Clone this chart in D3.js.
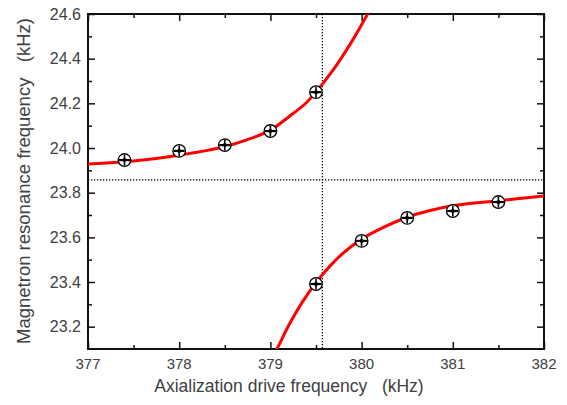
<!DOCTYPE html>
<html>
<head>
<meta charset="utf-8">
<script src="https://cdn.jsdelivr.net/npm/d3@7"></script>
<style>
  body { margin: 0; background: #fff; }
  text { font-family: "Liberation Sans", Arial, sans-serif; fill: #404040; }
</style>
</head>
<body>
<div id="chart"></div>
<script>
// measured points (kHz)
var drive = [377.4, 378.0, 378.5, 379.0, 379.5, 379.5, 380.0, 380.5, 381.0, 381.5];
var magnetron = [23.946, 23.987, 24.013, 24.076, 24.250, 23.391, 23.584, 23.687, 23.718, 23.758];

// fit curve, upper branch
var upperX = [377.0, 377.5, 378.0, 378.5, 378.8, 379.0, 379.2, 379.4, 379.5, 379.6, 379.7, 379.8, 379.9, 380.0, 380.1];
var upperY = [23.928, 23.942, 23.968, 24.006, 24.045, 24.080, 24.139, 24.205, 24.252, 24.302, 24.356, 24.417, 24.482, 24.552, 24.625];

// fit curve, lower branch
var lowerX = [379.0, 379.07, 379.2, 379.35, 379.5, 379.65, 379.8, 380.0, 380.25, 380.5, 380.75, 381.0, 381.5, 382.0];
var lowerY = [23.055, 23.100, 23.205, 23.310, 23.397, 23.470, 23.530, 23.592, 23.647, 23.690, 23.720, 23.741, 23.764, 23.785];

// dotted guide lines
var crossX = 379.57;
var crossY = 23.857;

var xTicks = [377, 378, 379, 380, 381, 382];
var yTicks = [23.2, 23.4, 23.6, 23.8, 24.0, 24.2, 24.4, 24.6];

var width = 567, height = 405;
var margin = { left: 88, top: 14, right: 23, bottom: 56 };
var innerW = width - margin.left - margin.right;
var innerH = height - margin.top - margin.bottom;

var svg = d3.select("#chart").append("svg")
  .attr("width", width)
  .attr("height", height);

var x = d3.scaleLinear().domain([377, 382]).range([0, innerW]);
var y = d3.scaleLinear().domain([23.1, 24.6]).range([innerH, 0]);

var g = svg.append("g")
  .attr("transform", "translate(" + margin.left + "," + margin.top + ")");

g.append("clipPath").attr("id", "clip")
  .append("rect").attr("width", innerW).attr("height", innerH);

//minor ticks every half kHz / 0.1 kHz
var xMinor = d3.range(377.5, 382, 1);
var yMinor = d3.range(23.3, 24.6, 0.2);

function tickAxes(axis, scale, major, minor, transform) {
  var a = g.append("g").attr("transform", transform)
    .call(axis(scale).tickValues(major).tickSize(-7).tickFormat(""));
  var b = g.append("g").attr("transform", transform)
    .call(axis(scale).tickValues(minor).tickSize(-4).tickFormat(""));
  [a, b].forEach(function(s) {
    s.select(".domain").remove();
    s.selectAll("line").attr("stroke", "#111").attr("stroke-width", 1.5);
  });
}

tickAxes(d3.axisBottom, x, xTicks, xMinor, "translate(0," + innerH + ")");
tickAxes(d3.axisTop, x, xTicks, xMinor, "translate(0,0)");
tickAxes(d3.axisLeft, y, yTicks, yMinor, "translate(0,0)");
tickAxes(d3.axisRight, y, yTicks, yMinor, "translate(" + innerW + ",0)");

// tick labels
g.selectAll(".xl").data(xTicks).enter().append("text")
  .attr("x", function(d) { return x(d); })
  .attr("y", innerH + 20)
  .attr("text-anchor", "middle")
  .style("font-size", "15px")
  .text(function(d) { return d; });

g.selectAll(".yl").data(yTicks).enter().append("text")
  .attr("x", -7)
  .attr("y", function(d) { return y(d) + 5.5; })
  .attr("text-anchor", "end")
  .style("font-size", "16px")
  .text(function(d) { return d.toFixed(1); });

// frame
g.append("rect")
  .attr("width", innerW).attr("height", innerH)
  .attr("fill", "none").attr("stroke", "#111").attr("stroke-width", 2);

// dotted guides
g.append("line")
  .attr("x1", 0).attr("x2", innerW)
  .attr("y1", y(crossY)).attr("y2", y(crossY))
  .attr("stroke", "#000").attr("stroke-width", 1.3).attr("stroke-dasharray", "1.3,1.7");
g.append("line")
  .attr("x1", x(crossX)).attr("x2", x(crossX))
  .attr("y1", 0).attr("y2", innerH)
  .attr("stroke", "#000").attr("stroke-width", 1.3).attr("stroke-dasharray", "1.3,1.7");

// fit curves
var line = d3.line()
  .x(function(d) { return x(d[0]); })
  .y(function(d) { return y(d[1]); })
  .curve(d3.curveCatmullRom);

[[upperX, upperY], [lowerX, lowerY]].forEach(function(br) {
  g.append("path")
    .datum(d3.zip(br[0], br[1]))
    .attr("clip-path", "url(#clip)")
    .attr("d", line)
    .attr("fill", "none")
    .attr("stroke", "#ff0000")
    .attr("stroke-width", 3);
});

// data markers
var pts = g.selectAll(".pt").data(d3.zip(drive, magnetron)).enter().append("g")
  .attr("transform", function(d) { return "translate(" + x(d[0]) + "," + y(d[1]) + ")"; });
pts.append("circle").attr("r", 6.3).attr("fill", "#fff").attr("stroke", "#000").attr("stroke-width", 1.3);
pts.append("line").attr("x1", -5.5).attr("x2", 5.5).attr("stroke", "#000").attr("stroke-width", 2.2);
pts.append("line").attr("y1", -5.5).attr("y2", 5.5).attr("stroke", "#000").attr("stroke-width", 1.6);
pts.append("circle").attr("r", 2).attr("fill", "#000");

// axis titles
svg.append("text")
  .attr("x", 289)
  .attr("y", 392)
  .attr("text-anchor", "middle")
  .style("font-size", "17.5px")
  .style("white-space", "pre")
  .text("Axialization drive frequency   (kHz)");

svg.append("text")
  .attr("transform", "translate(30,181) rotate(-90)")
  .attr("text-anchor", "middle")
  .style("font-size", "18.5px")
  .style("white-space", "pre")
  .text("Magnetron resonance frequency   (kHz)");
</script>
</body>
</html>
